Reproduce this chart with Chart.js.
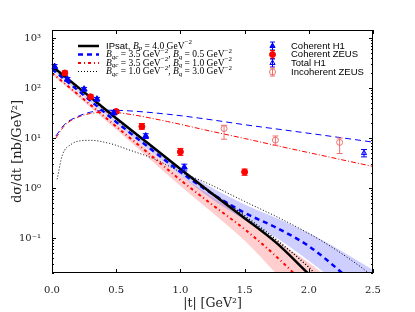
<!DOCTYPE html>
<html>
<head>
<meta charset="utf-8">
<script src="https://cdn.jsdelivr.net/npm/chart.js@4.4.1/dist/chart.umd.min.js"></script>
<style>
  html, body { margin: 0; padding: 0; background: #fff; }
  #wrap { width: 415px; height: 312px; }
</style>
</head>
<body>
<div id="wrap"><canvas id="chart" width="415" height="312"></canvas></div>
<script>
// --- coherent model curves ---
// IPsat, Bp = 4.0
const tIpsat = [0, 0.25, 0.5, 0.75, 1.0, 1.25, 1.5, 1.75, 2.0];
const ipsatCoh = [275, 83, 25, 7.8, 2.4, 0.76, 0.25, 0.079, 0.019];

// Bqc = 3.5, Bq = 0.5
const tBlue = [0, 0.25, 0.5, 0.75, 1.0, 1.25, 1.5, 1.75, 2.0, 2.25, 2.3];
const blueCoh = [240, 71, 21, 6.6, 2.1, 0.76, 0.32, 0.16, 0.069, 0.021, 0.016];
const tBlueBand = [0, 0.5, 1.0, 1.25, 1.5, 1.75, 2.0, 2.25, 2.5];
const blueBandHi = [251, 22.4, 2.5, 1.0, 0.47, 0.25, 0.126, 0.056, 0.023];
const blueBandLo = [229, 19.5, 1.8, 0.59, 0.23, 0.1, 0.035, 0.011, 0.003];

// Bqc = 3.5, Bq = 1.0
const tRed = [0, 0.25, 0.5, 0.75, 1.0, 1.25, 1.5, 1.75, 2.0];
const redCoh = [200, 59, 17, 5.0, 1.45, 0.46, 0.15, 0.042, 0.01];
const tRedBand = [0, 0.5, 1.0, 1.25, 1.5, 1.75, 2.0, 2.25];
const redBandHi = [214, 19, 1.8, 0.66, 0.25, 0.089, 0.032, 0.01];
const redBandLo = [186, 14.8, 1.1, 0.32, 0.089, 0.019, 0.004, 0.001];

// Bqc = 1.0, Bq = 3.0
const tDot = [0, 0.25, 0.5, 0.75, 1.0, 1.25, 1.5, 1.75, 2.0, 2.1];
const dotCoh = [263, 79, 24, 7.6, 2.4, 0.79, 0.28, 0.091, 0.026, 0.014];

// --- incoherent model curves ---
const tInc = [0.03, 0.1, 0.2, 0.3, 0.45, 0.6, 0.9, 1.2, 1.5, 1.8, 2.1, 2.5];
const blueInc = [11, 19, 27, 33, 36, 35, 30, 24, 18.5, 14.6, 11.5, 8.3];
const redInc = [10, 18, 26, 31, 33, 30, 21.4, 14.4, 9.8, 6.6, 4.5, 2.7];
const tIncDot = [0.04, 0.08, 0.15, 0.22, 0.3, 0.45, 0.6, 0.8, 1.0, 1.2, 1.5, 1.8, 2.1, 2.4, 2.5];
const dotInc = [1.5, 4.5, 7.5, 8.8, 9.0, 7.8, 5.8, 3.8, 2.1, 1.28, 0.54, 0.23, 0.088, 0.027, 0.017];

// --- data ---
const tH1Coh = [0.02, 0.12, 0.25, 0.35, 0.48, 0.73, 1.03];
const h1Coh = [270, 150, 95, 60, 32, 11, 2.6];
const h1CohLo = [245, 137, 87, 55, 29, 9.8, 2.2];
const h1CohHi = [295, 163, 103, 65, 35, 12.2, 3.0];

const tZeusCoh = [0.1, 0.3, 0.5, 0.7, 1.0, 1.5];
const zeusCoh = [200, 67, 34, 17, 5.3, 2.1];
const zeusCohLo = [180, 61, 31, 15, 4.5, 1.8];
const zeusCohHi = [220, 73, 37, 19.5, 6.2, 2.4];

const tH1Tot = [2.43];
const h1Tot = [5.0];
const h1TotLo = [4.2];
const h1TotHi = [5.9];

const tZeusInc = [1.34, 1.74, 2.24];
const zeusInc = [15.5, 9.1, 8.2];
const zeusIncLo = [9.5, 7.2, 4.9];
const zeusIncHi = [18, 11, 10];

// axes
const xTicks = [0, 0.5, 1.0, 1.5, 2.0, 2.5];
const xTickLabels = ['0.0', '0.5', '1.0', '1.5', '2.0', '2.5'];
const yMajorTicks = [0.1, 1, 10, 100, 1000];
const yTickLabels = ['10\u207B\u00B9', '10\u2070', '10\u00B9', '10\u00B2', '10\u00B3'];

const BLUE = '#0000ff';
const RED = '#ff0000';
const INC_RED = '#f07070';

const pts = (xs, ys) => xs.map((x, i) => ({ x: x, y: ys[i] }));

function curve(xs, ys, color, width, dash, order) {
    return {
        data: pts(xs, ys), borderColor: color, borderWidth: width, borderDash: dash,
        pointRadius: 0, fill: false, cubicInterpolationMode: 'monotone', order: order
    };
}

function band(xs, ys, color, fill) {
    return {
        data: pts(xs, ys), borderWidth: 0, borderColor: 'rgba(0,0,0,0)', backgroundColor: color,
        pointRadius: 0, fill: fill, cubicInterpolationMode: 'monotone', order: 20
    };
}

function markers(xs, ys, lo, hi, style, fillColor, lineColor, errColor, radius) {
    return {
        data: pts(xs, ys), showLine: false, pointStyle: style, pointRadius: radius,
        pointBackgroundColor: fillColor, pointBorderColor: lineColor, pointBorderWidth: 1,
        errLo: lo, errHi: hi, errColor: errColor, order: 0
    };
}

// error bars, drawn just before each marker dataset
const errorBars = {
    id: 'errorBars',
    beforeDatasetDraw(chart, args) {
        const ds = chart.data.datasets[args.index];
        if (!ds.errLo) return;
        const ys = chart.scales.y;
        const ctx = chart.ctx;
        ctx.save();
        ctx.strokeStyle = ds.errColor;
        ctx.lineWidth = 1;
        args.meta.data.forEach((pt, i) => {
            const y1 = ys.getPixelForValue(ds.errLo[i]);
            const y2 = ys.getPixelForValue(ds.errHi[i]);
            ctx.beginPath();
            ctx.moveTo(pt.x, y1); ctx.lineTo(pt.x, y2);
            ctx.moveTo(pt.x - 3, y1); ctx.lineTo(pt.x + 3, y1);
            ctx.moveTo(pt.x - 3, y2); ctx.lineTo(pt.x + 3, y2);
            ctx.stroke();
        });
        ctx.restore();
    }
};

function isMajor(v) {
    return yMajorTicks.findIndex(m => Math.abs(m - v) / m < 1e-6);
}

// full frame with inward ticks (matplotlib look)
const frameTicks = {
    id: 'frameTicks',
    afterDatasetsDraw(chart) {
        const { ctx, chartArea: a, scales: { x, y } } = chart;
        ctx.save();
        ctx.strokeStyle = '#000';
        ctx.lineWidth = 1;
        ctx.strokeRect(a.left + 0.5, a.top + 0.5, a.right - a.left - 1, a.bottom - a.top - 1);
        ctx.beginPath();
        x.ticks.forEach(t => {
            const px = Math.round(x.getPixelForValue(t.value)) + 0.5;
            ctx.moveTo(px, a.bottom); ctx.lineTo(px, a.bottom - 4);
            ctx.moveTo(px, a.top); ctx.lineTo(px, a.top + 4);
        });
        y.ticks.forEach(t => {
            const py = Math.round(y.getPixelForValue(t.value)) + 0.5;
            const len = isMajor(t.value) >= 0 ? 4 : 2;
            ctx.moveTo(a.left, py); ctx.lineTo(a.left + len, py);
            ctx.moveTo(a.right, py); ctx.lineTo(a.right - len, py);
        });
        ctx.stroke();
        ctx.restore();
    }
};

// text with sub/superscripts
function drawRich(ctx, x, y, parts) {
    parts.forEach(([txt, kind]) => {
        let dy = 0;
        if (kind === 'sans') ctx.font = '9.5px "Liberation Sans"';
        else if (kind === 'it') ctx.font = 'italic 9.5px "Liberation Serif"';
        else if (kind === 'sub') { ctx.font = 'italic 7px "Liberation Serif"'; dy = 2.5; }
        else if (kind === 'sup') { ctx.font = '7px "Liberation Serif"'; dy = -3.5; }
        else ctx.font = '9.5px "Liberation Serif"';
        ctx.fillText(txt, x, y + dy);
        x += ctx.measureText(txt).width;
    });
}

const legends = {
    id: 'legends',
    afterDraw(chart) {
        const ctx = chart.ctx;
        ctx.save();
        ctx.textBaseline = 'middle';
        ctx.fillStyle = '#000';

        // left: model lines
        const lineRows = [
            { y: 46, color: '#000', width: 2.5, dash: [],
              text: [['IPsat, ', 'sans'], ['B', 'it'], ['p', 'sub'], [' = 4.0 GeV', 'n'], ['\u22122', 'sup']] },
            { y: 54.5, color: BLUE, width: 2.5, dash: [5, 4],
              text: [['B', 'it'], ['qc', 'sub'], [' = 3.5 GeV', 'n'], ['\u22122', 'sup'], [', ', 'n'], ['B', 'it'], ['q', 'sub'], [' = 0.5 GeV', 'n'], ['\u22122', 'sup']] },
            { y: 63, color: RED, width: 2, dash: [3, 3, 1, 3],
              text: [['B', 'it'], ['qc', 'sub'], [' = 3.5 GeV', 'n'], ['\u22122', 'sup'], [', ', 'n'], ['B', 'it'], ['q', 'sub'], [' = 1.0 GeV', 'n'], ['\u22122', 'sup']] },
            { y: 71.5, color: '#000', width: 1, dash: [1, 2],
              text: [['B', 'it'], ['qc', 'sub'], [' = 1.0 GeV', 'n'], ['\u22122', 'sup'], [', ', 'n'], ['B', 'it'], ['q', 'sub'], [' = 3.0 GeV', 'n'], ['\u22122', 'sup']] }
        ];
        lineRows.forEach(r => {
            ctx.strokeStyle = r.color;
            ctx.lineWidth = r.width;
            ctx.setLineDash(r.dash);
            ctx.beginPath();
            ctx.moveTo(78, r.y); ctx.lineTo(99, r.y);
            ctx.stroke();
            ctx.setLineDash([]);
            ctx.fillStyle = '#000';
            drawRich(ctx, 106, r.y, r.text);
        });

        // right: data markers
        const dataRows = [
            { y: 46, style: 'triangle', fill: BLUE, line: BLUE, err: BLUE, label: 'Coherent H1' },
            { y: 54.5, style: 'circle', fill: RED, line: RED, err: RED, label: 'Coherent ZEUS' },
            { y: 63, style: 'triangle', fill: 'rgba(0,0,255,0.2)', line: BLUE, err: BLUE, label: 'Total H1' },
            { y: 72, style: 'circle', fill: 'rgba(255,255,255,0)', line: INC_RED, err: INC_RED, label: 'Incoherent ZEUS' }
        ];
        dataRows.forEach(r => {
            ctx.strokeStyle = r.err;
            ctx.lineWidth = 1;
            ctx.beginPath();
            ctx.moveTo(272.5, r.y - 4); ctx.lineTo(272.5, r.y + 4);
            ctx.moveTo(270, r.y - 4); ctx.lineTo(275, r.y - 4);
            ctx.moveTo(270, r.y + 4); ctx.lineTo(275, r.y + 4);
            ctx.stroke();
            ctx.fillStyle = r.fill;
            ctx.strokeStyle = r.line;
            Chart.helpers.drawPoint(ctx, { pointStyle: r.style, radius: 3, rotation: 0, borderWidth: 1 }, 272.5, r.y);
            ctx.fillStyle = '#000';
            ctx.font = '9.5px "Liberation Sans"';
            ctx.fillText(r.label, 291, r.y);
        });
        ctx.restore();
    }
};

new Chart(document.getElementById('chart'), {
    type: 'line',
    data: {
        datasets: [
            markers(tH1Coh, h1Coh, h1CohLo, h1CohHi, 'triangle', BLUE, BLUE, BLUE, 3.5),
            markers(tZeusCoh, zeusCoh, zeusCohLo, zeusCohHi, 'circle', RED, RED, RED, 3),
            markers(tH1Tot, h1Tot, h1TotLo, h1TotHi, 'triangle', 'rgba(0,0,255,0.2)', BLUE, BLUE, 3),
            markers(tZeusInc, zeusInc, zeusIncLo, zeusIncHi, 'circle', 'rgba(255,255,255,0)', INC_RED, INC_RED, 3),
            curve(tIpsat, ipsatCoh, '#000', 2.5, [], 2),
            curve(tBlue, blueCoh, BLUE, 2.5, [5, 4], 3),
            curve(tRed, redCoh, RED, 2, [3, 3, 1, 3], 4),
            curve(tDot, dotCoh, '#000', 1.5, [1, 2], 1),
            curve(tInc, blueInc, BLUE, 1, [6, 4], 5),
            curve(tInc, redInc, RED, 1, [5, 2, 1, 2], 6),
            curve(tIncDot, dotInc, '#000', 1, [1, 2], 7),
            band(tBlueBand, blueBandHi, 'rgba(60,60,255,0.25)', '+1'),
            band(tBlueBand, blueBandLo, 'rgba(0,0,0,0)', false),
            band(tRedBand, redBandHi, 'rgba(255,60,60,0.25)', '+1'),
            band(tRedBand, redBandLo, 'rgba(0,0,0,0)', false)
        ]
    },
    options: {
        responsive: false,
        animation: false,
        events: [],
        layout: { padding: { left: 0, right: 42, top: 30, bottom: 0 } },
        plugins: { legend: { display: false }, tooltip: { enabled: false } },
        scales: {
            x: {
                type: 'linear', min: 0, max: 2.5,
                afterFit: s => { s.height = 39; },
                afterBuildTicks: s => { s.ticks = xTicks.map(v => ({ value: v })); },
                grid: { display: false },
                border: { display: false },
                ticks: {
                    padding: 3, color: '#222',
                    font: { family: 'DejaVu Serif', size: 10 },
                    callback: (v) => xTickLabels[xTicks.indexOf(v)]
                },
                title: {
                    display: true, text: '|t| [GeV\u00B2]', color: '#222',
                    font: { family: 'DejaVu Serif', size: 12.5 },
                    padding: { top: 0, bottom: 1 }
                }
            },
            y: {
                type: 'logarithmic', min: 0.02, max: 1450,
                afterFit: s => { s.width = 52; },
                afterBuildTicks: s => {
                    const out = [];
                    for (let e = -2; e <= 3; e++) {
                        for (let m = 1; m <= 9; m++) {
                            const v = Number((m * Math.pow(10, e)).toPrecision(6));
                            if (v >= 0.02 && v <= 1450) out.push({ value: v });
                        }
                    }
                    s.ticks = out;
                },
                grid: { display: false },
                border: { display: false },
                ticks: {
                    padding: 3, color: '#222', autoSkip: false,
                    font: { family: 'DejaVu Serif', size: 10 },
                    callback: (v) => {
                        const i = isMajor(v);
                        return i >= 0 ? yTickLabels[i] : '';
                    }
                },
                title: {
                    display: true, text: 'd\u03C3/dt [nb/GeV\u00B2]', color: '#222',
                    font: { family: 'DejaVu Serif', size: 13 },
                    padding: { top: 10, bottom: 0 }
                }
            }
        }
    },
    plugins: [errorBars, frameTicks, legends]
});
</script>
</body>
</html>
